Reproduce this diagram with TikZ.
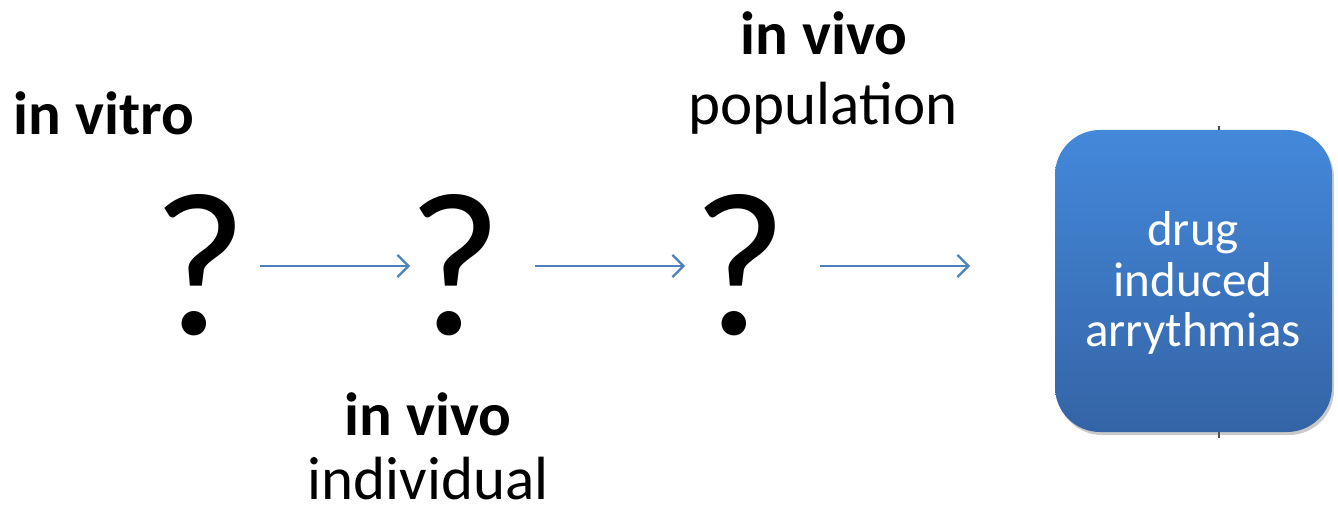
\documentclass[tikz,border=0pt]{standalone}
\usepackage{fontspec}
\setmainfont{Carlito}
\usetikzlibrary{arrows.meta,shadows}
\definecolor{arrblue}{HTML}{4F81BD}
\definecolor{boxtop}{HTML}{4488DA}
\definecolor{boxbot}{HTML}{3464A6}
\tikzset{
  lbl/.style={anchor=base, inner sep=0pt, font=\fontsize{61}{63}\selectfont},
  blbl/.style={lbl, font=\fontsize{61}{63}\selectfont\bfseries},
  qmark/.style={inner sep=0pt, font=\fontsize{205}{205}\selectfont},
  flow/.style={draw=arrblue, line width=2.2pt, -{Straight Barb[length=11pt,width=22pt,line width=2.2pt]}},
  boxstyle/.style={rounded corners=45pt, top color=boxtop, bottom color=boxbot, draw=none,
    drop shadow={shadow xshift=2pt, shadow yshift=-3pt, opacity=0.35, fill=black!60}},
  boxtext/.style={anchor=base, inner sep=0pt, text=white, font=\fontsize{49}{52}\selectfont}
}
\begin{document}
\begin{tikzpicture}[x=1pt,y=-1pt]
\useasboundingbox (0,0) rectangle (1338,510);
% box
\draw[gray!60!black, line width=1.2pt] (1219,126) -- (1219,131);
\draw[gray!60!black, line width=1.2pt] (1219,432) -- (1219,438);
\path[boxstyle] (1055,130) rectangle (1332,432);
\node[boxtext] (t1) at (1193,246) {drug};
\node[boxtext] (t2) at (1193,297) {induced};
\node[boxtext] (t3) at (1193,347) {arrythmias};
% labels
\node[blbl] (vitro) at (104,135) {in vitro};
\node[blbl] (vivotop) at (824,55) {in vivo};
\node[lbl] (pop) at (823,125) {population};
\node[blbl] (vivobot) at (428,435) {in vivo};
\node[lbl] (ind) at (428,499) {individual};
% question marks
\node[qmark] (q1) at (200,265) {?};
\node[qmark] (q2) at (455,265) {?};
\node[qmark] (q3) at (740,265) {?};
% arrows
\coordinate (a1s) at (260,266); \coordinate (a1e) at (410,266);
\coordinate (a2s) at (535,266); \coordinate (a2e) at (685,266);
\coordinate (a3s) at (820,266); \coordinate (a3e) at (970,266);
\draw[flow] (a1s) -- (a1e);
\draw[flow] (a2s) -- (a2e);
\draw[flow] (a3s) -- (a3e);
\end{tikzpicture}
\end{document}
